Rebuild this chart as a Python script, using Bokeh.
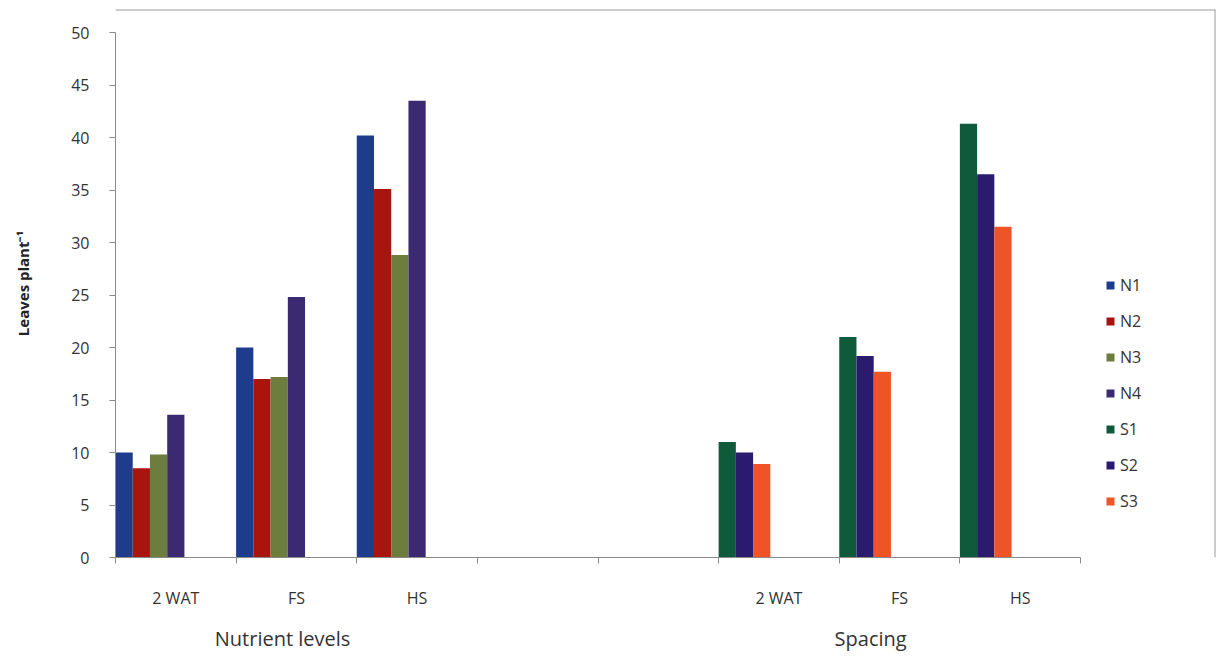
from bokeh.plotting import figure
from bokeh.models import (ColumnDataSource, Range1d, LinearAxis, FixedTicker,
                          Legend, LegendItem, Span)
from bokeh.transform import dodge
from bokeh.embed import file_html
from bokeh.resources import INLINE

# Growth stages shown on the x axis (two blank slots separate the groups)
stages = ["2 WAT", "FS", "HS"]
slot_labels = ["2 WAT", "FS", "HS", "", "", "2 WAT", "FS", "HS"]
group_titles = ["Nutrient levels", "Spacing"]

# Leaves per plant, nutrient levels
N1 = [10.0, 20.0, 40.2]
N2 = [8.5, 17.0, 35.1]
N3 = [9.8, 17.2, 28.8]
N4 = [13.6, 24.8, 43.5]

# Leaves per plant, spacing
S1 = [11.0, 21.0, 41.3]
S2 = [10.0, 19.2, 36.5]
S3 = [8.9, 17.7, 31.5]

y_ticks = list(range(0, 51, 5))
y_max = 50

FONT = "Open Sans"
n_slots = 7          # series slots per category
bw = 1.0 / n_slots

# The frame also holds the legend area on the right, so the ranges run a
# little past the data; the axes are bounded to the data extent.
n_cat = len(slot_labels)
x_end = n_cat * 1100 / 965
y_end = y_max * 548 / 525

p = figure(width=1227, height=661, output_backend="svg", toolbar_location=None,
           x_range=Range1d(0, x_end), y_range=Range1d(0, y_end),
           min_border_left=115, min_border_right=12, min_border_top=9,
           min_border_bottom=104, x_axis_type=None, y_axis_type=None)
p.xgrid.visible = False
p.ygrid.visible = False
p.outline_line_color = None
p.background_fill_color = "white"
p.border_fill_color = "white"

nut_src = ColumnDataSource(dict(pos=[0, 1, 2], N1=N1, N2=N2, N3=N3, N4=N4))
spc_src = ColumnDataSource(dict(pos=[5, 6, 7], S1=S1, S2=S2, S3=S3))

colors = {"N1": "#1d3c8c", "N2": "#a8150f", "N3": "#6c7d3e", "N4": "#3b2a72",
          "S1": "#0f5a3b", "S2": "#2b1b6e", "S3": "#ee5426"}

renderers = {}
for i, name in enumerate(["N1", "N2", "N3", "N4"]):
    renderers[name] = p.vbar(x=dodge("pos", (i + 0.5) * bw), top=name, width=bw,
                             source=nut_src, fill_color=colors[name],
                             line_color=None)
for i, name in enumerate(["S1", "S2", "S3"]):
    renderers[name] = p.vbar(x=dodge("pos", (i + 0.5) * bw), top=name, width=bw,
                             source=spc_src, fill_color=colors[name],
                             line_color=None)

# y axis
yax = LinearAxis(ticker=FixedTicker(ticks=y_ticks), axis_label="Leaves plant\u207b\u00b9",
                 bounds=(0, y_max))
yax.axis_line_color = "#8a8a8a"
yax.major_tick_line_color = "#8a8a8a"
yax.major_tick_out = 6
yax.major_tick_in = 0
yax.minor_tick_line_color = None
yax.major_label_text_font = FONT
yax.major_label_text_font_size = "16px"
yax.major_label_text_color = "#333333"
yax.major_label_standoff = 20
yax.axis_label_text_font = FONT
yax.axis_label_text_font_size = "15px"
yax.axis_label_text_font_style = "bold"
yax.axis_label_text_color = "#222222"
yax.axis_label_standoff = 35
p.add_layout(yax, "left")

# x axis: boundaries as minor ticks, stage names at slot centres
centres = [i + 0.5 for i, s in enumerate(slot_labels) if s]
xax = LinearAxis(ticker=FixedTicker(ticks=centres,
                                    minor_ticks=list(range(n_cat + 1))),
                 bounds=(0, n_cat))
xax.major_label_overrides = {i + 0.5: s for i, s in enumerate(slot_labels) if s}
xax.axis_line_color = "#8a8a8a"
xax.major_tick_line_color = None
xax.major_tick_out = 0
xax.major_tick_in = 0
xax.minor_tick_line_color = "#8a8a8a"
xax.minor_tick_out = 6
xax.minor_tick_in = 0
xax.major_label_text_font = FONT
xax.major_label_text_font_size = "16px"
xax.major_label_text_color = "#333333"
xax.major_label_standoff = 23
p.add_layout(xax, "below")

# group titles under the stage names
group_pos = [1.385, 6.26]
gax = LinearAxis(ticker=FixedTicker(ticks=group_pos))
gax.major_label_overrides = dict(zip(group_pos, group_titles))
gax.axis_line_color = None
gax.major_tick_line_color = None
gax.minor_tick_line_color = None
gax.major_label_text_font = FONT
gax.major_label_text_font_size = "20px"
gax.major_label_text_color = "#333333"
gax.major_label_standoff = 7
p.add_layout(gax, "below")

legend = Legend(items=[LegendItem(label=k, renderers=[renderers[k]])
                       for k in ["N1", "N2", "N3", "N4", "S1", "S2", "S3"]],
                location=(990, 45), orientation="vertical",
                glyph_width=10, glyph_height=10, label_height=22,
                spacing=14, padding=0, margin=0, border_line_color=None,
                background_fill_alpha=0, label_text_font=FONT,
                label_text_font_size="16px", label_text_color="#333333",
                label_standoff=5)
p.add_layout(legend, "center")

# chart-area edges along the top and right of the frame
p.add_layout(Span(location=y_end, dimension="width", line_color="#9a9a9a",
                  line_width=2))
p.add_layout(Span(location=x_end, dimension="height", line_color="#9a9a9a",
                  line_width=2))

open("out.html", "w").write(file_html(p, INLINE))
